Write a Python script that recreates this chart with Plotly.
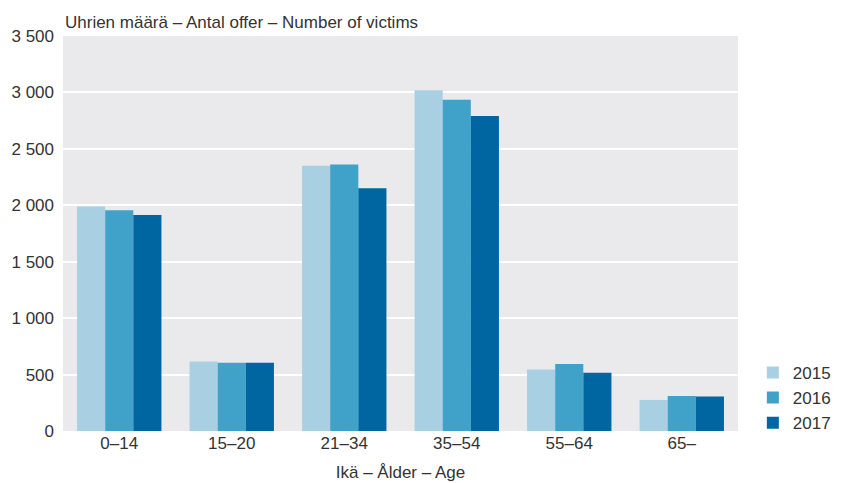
import plotly.graph_objects as go

categories = ["0–14", "15–20", "21–34", "35–54", "55–64", "65–"]
years = ["2015", "2016", "2017"]
v2015 = [1990, 615, 2350, 3020, 545, 275]
v2016 = [1955, 605, 2362, 2935, 593, 310]
v2017 = [1915, 605, 2150, 2792, 517, 305]
colors = ["#a9cfe3", "#40a1c9", "#0066a1"]
ytick_vals = [0, 500, 1000, 1500, 2000, 2500, 3000, 3500]

fig = go.Figure()
for name, vals, c in zip(years, [v2015, v2016, v2017], colors):
    fig.add_trace(go.Bar(x=categories, y=vals, name=name, marker=dict(color=c, line=dict(width=0))))

font = "Liberation Sans, Arial, sans-serif"
fig.update_layout(
    width=834, height=475,
    barmode="group", bargap=0.25, bargroupgap=0,
    paper_bgcolor="white", plot_bgcolor="#eaeaed",
    margin=dict(l=55, r=104, t=28, b=52, autoexpand=False),
    separators=", ",
    font=dict(family=font, size=17, color="#333333"),
    xaxis=dict(showgrid=False, ticks="", tickfont=dict(size=17), automargin=False,
               title=dict(text="Ikä – Ålder – Age", font=dict(size=17), standoff=14)),
    yaxis=dict(range=[0, 3500], tickvals=ytick_vals, tickformat=",", gridcolor="white", gridwidth=2,
               zeroline=False, ticks="", tickfont=dict(size=17), ticklabelstandoff=8, automargin=False),
    legend=dict(x=1.022, xanchor="left", y=-0.025, yanchor="bottom", font=dict(size=17)),
    annotations=[dict(text="Uhrien määrä – Antal offer – Number of victims", xref="paper", yref="paper",
                      x=0, y=1, xanchor="left", yanchor="bottom", yshift=2, showarrow=False,
                      font=dict(size=17, color="#333333"))],
)
fig.write_html("out.html")
